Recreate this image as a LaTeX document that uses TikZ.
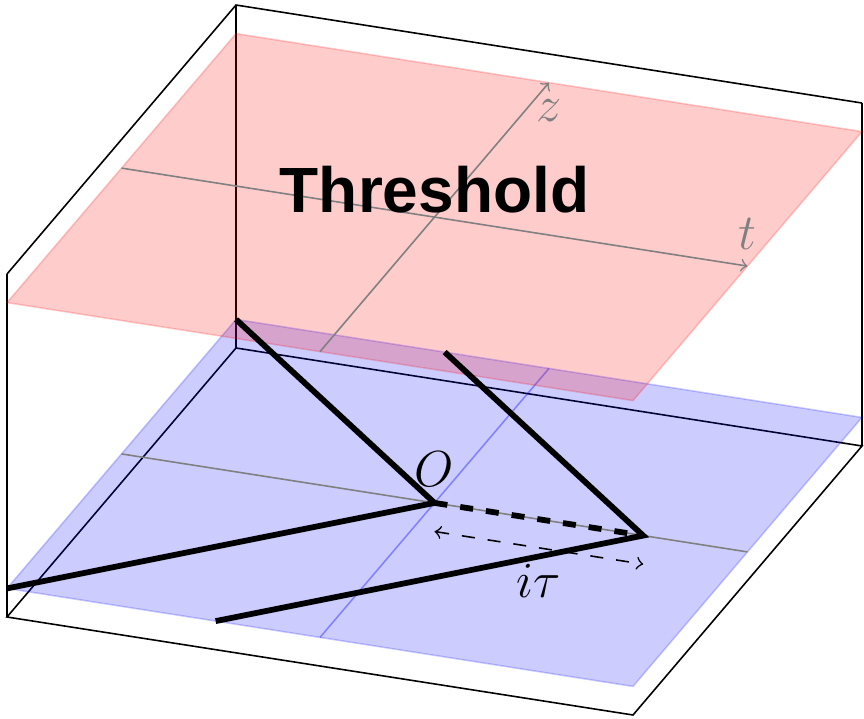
\documentclass[tikz,border=0pt]{standalone}
\usepackage{fontspec}
\usepackage{tikz}
\newfontfamily\ThreshFont{Liberation Sans}
\definecolor{SheetRed}{HTML}{FF0000}
\definecolor{SheetBlue}{HTML}{0000FF}
\definecolor{AxisGray}{HTML}{808080}
\newcommand{\MathLabel}{\fontsize{13.7}{16}\selectfont}
\newcommand{\TitleLabel}{\fontsize{18.2}{21}\selectfont\ThreshFont\bfseries}
\tikzset{
  box edge/.style={draw=black,line width=0.45pt},
  red sheet/.style={fill=SheetRed,draw=SheetRed,opacity=0.2,line width=0.45pt},
  blue sheet/.style={fill=SheetBlue,draw=SheetBlue,opacity=0.2,line width=0.45pt},
  blue line/.style={draw=SheetBlue,opacity=0.36,line width=0.45pt},
  sheet axis/.style={draw=AxisGray,line width=0.45pt},
  ray/.style={draw=black,line width=1.65pt},
  dash gap/.style={dash pattern=on 3.7pt off 3.7pt},
  math label/.style={font=\MathLabel,inner sep=4.6pt}
}

\begin{document}
\begin{tikzpicture}[x={(3.13cm,-0.49cm)},y={(1.145cm,1.345cm)},z={(0cm,2.858cm)}]
  \useasboundingbox (-4.345cm,-2.151cm) rectangle (4.295cm,5.029cm);

  \def\hbot{-0.1}
  \def\htop{1.1}
  \def\shift{2/3}

  % box
  \draw[box edge] (-1,-1,\hbot) -- (1,-1,\hbot) -- (1,1,\hbot) -- (-1,1,\hbot) -- cycle;
  \foreach \t/\d in {-1/-1,-1/1,1/1}
    \draw[box edge] (\t,\d,\hbot) -- (\t,\d,\htop);
  \draw[box edge] (-1,-1,\htop) -- (-1,1,\htop) -- (1,1,\htop);

  % lower sheet
  \filldraw[blue sheet] (-1,-1,0) -- (1,-1,0) -- (1,1,0) -- (-1,1,0) -- cycle;
  \draw[blue line] (0,-1,0) -- (0,1,0);
  \draw[sheet axis] (-1,0,0) -- (1,0,0);

  % upper sheet
  \filldraw[red sheet] (-1,-1,1) -- (1,-1,1) -- (1,1,1) -- (-1,1,1) -- cycle;
  \draw[sheet axis,->] (-1,0,1) -- (1,0,1)
    node[math label,anchor=south,text=AxisGray] (lt) {$t$};
  \draw[sheet axis,->] (0,-1,1) -- (0,1,1)
    node[math label,anchor=north,text=AxisGray] (lz) {$z$};
  \node[font=\TitleLabel,inner sep=0pt,anchor=base,yshift=1.2pt] (thr) at (0,0,1) {Threshold};

  \coordinate (O) at (0,0,0);
  \coordinate (P) at (\shift,0,0);
  \coordinate (A) at (-1,1,0);
  \coordinate (B) at (-1,-1,0);
  \coordinate (C) at ({\shift-1},1,0);
  \coordinate (D) at ({\shift-1},-1,0);
  \draw[ray] (A) -- (O) -- (B);
  \draw[ray] (C) -- (P) -- (D);
  \draw[ray,dash gap] (O) -- (P);
  \node[math label,anchor=south] (lO) at (O) {$O$};

  \coordinate (Ob) at (0,0,\hbot);
  \coordinate (Pb) at (\shift,0,\hbot);
  \draw[<->,line width=0.45pt,dash gap] (Ob) -- (Pb)
    node[math label,midway,anchor=north] (ltau) {$i\tau$};
\end{tikzpicture}
\end{document}
